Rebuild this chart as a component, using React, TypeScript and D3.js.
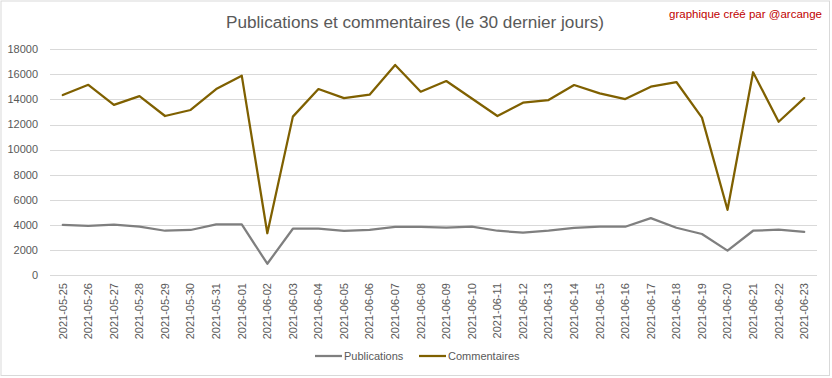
import React from "react";
import * as d3 from "d3";

const dates = [
  "2021-05-25","2021-05-26","2021-05-27","2021-05-28","2021-05-29","2021-05-30","2021-05-31",
  "2021-06-01","2021-06-02","2021-06-03","2021-06-04","2021-06-05","2021-06-06","2021-06-07",
  "2021-06-08","2021-06-09","2021-06-10","2021-06-11","2021-06-12","2021-06-13","2021-06-14",
  "2021-06-15","2021-06-16","2021-06-17","2021-06-18","2021-06-19","2021-06-20","2021-06-21",
  "2021-06-22","2021-06-23"
];

const publications = [
  3990, 3910, 4010, 3850, 3530, 3590, 4030, 4030, 900, 3690,
  3690, 3510, 3590, 3830, 3830, 3770, 3850, 3530, 3370, 3530,
  3750, 3850, 3850, 4540, 3770, 3270, 1940, 3530, 3610, 3430
];

const commentaires = [
  14350, 15170, 13570, 14270, 12680, 13160, 14830, 15900, 3330, 12630,
  14830, 14110, 14380, 16750, 14620, 15470, 14080, 12680, 13740, 13950,
  15150, 14490, 14030, 15020, 15390, 12550, 5200, 16170, 12220, 14110
];

const yTicks = [0, 2000, 4000, 6000, 8000, 10000, 12000, 14000, 16000, 18000];

const seriesNames = ["Publications", "Commentaires"];
const seriesColors = ["#7f7f7f", "#7f6000"];

const titleText = "Publications et commentaires (le 30 dernier jours)";
const creditText = "graphique créé par @arcange";

export default function App() {
  const W = 832, H = 378;
  const left = 50, right = 817, top = 49.3, bottom = 275;
  const x = d3.scaleBand<string>().domain(dates).range([left, right]);
  const y = d3.scaleLinear().domain([0, 18000]).range([bottom, top]);
  const cx = (d: string) => (x(d) as number) + x.bandwidth() / 2;
  const line = d3.line<number>()
    .x((_, i) => cx(dates[i]))
    .y((v) => y(v));
  const series = [publications, commentaires];
  const font = "'Liberation Sans', Arial, sans-serif";
  const legendX = [315, 419];

  return (
    <svg width={W} height={H} style={{ position: "absolute", left: 0, top: 0, background: "#fff" }} fontFamily={font}>
      <rect x={0} y={0} width={W} height={H} fill="#fff" />
      <rect x={1} y={1} width={828.5} height={374.5} fill="none" stroke="#d9d9d9" strokeWidth={1} />
      <text x={415} y={28} textAnchor="middle" fontSize={16} fill="#595959" textLength={378} lengthAdjust="spacingAndGlyphs">{titleText}</text>
      <text x={822} y={18} textAnchor="end" fontSize={11.5} fill="#c00000">{creditText}</text>
      {yTicks.map((t) => (
        <g key={t}>
          <line x1={left} x2={right} y1={Math.round(y(t)) + 0.5} y2={Math.round(y(t)) + 0.5} stroke="#d9d9d9" strokeWidth={1} />
          <text x={38} y={y(t)} dy="0.35em" textAnchor="end" fontSize={11} fill="#595959">{t}</text>
        </g>
      ))}
      {dates.map((d) => (
        <text key={d} transform={`translate(${cx(d)},283) rotate(-90)`} dy="0.35em" textAnchor="end" fontSize={11} fill="#595959">{d}</text>
      ))}
      {series.map((s, i) => (
        <path key={i} d={line(s) || ""} fill="none" stroke={seriesColors[i]} strokeWidth={2.25} strokeLinejoin="round" strokeLinecap="round" />
      ))}
      {seriesNames.map((n, i) => (
        <g key={n}>
          <line x1={legendX[i]} x2={legendX[i] + 27} y1={356} y2={356} stroke={seriesColors[i]} strokeWidth={2.25} />
          <text x={legendX[i] + 29} y={356} dy="0.35em" fontSize={11} fill="#595959">{n}</text>
        </g>
      ))}
    </svg>
  );
}
